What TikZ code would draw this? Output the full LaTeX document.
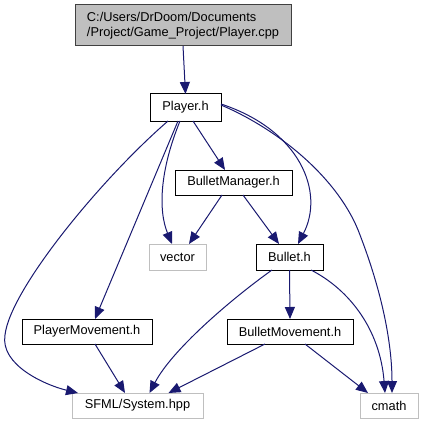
\documentclass[tikz,border=0pt]{standalone}
\usepackage{fontspec}
\setmainfont{Liberation Sans}
\usetikzlibrary{arrows.meta,calc}
\definecolor{edgeblue}{HTML}{191970}
\definecolor{boxgray}{HTML}{BFBFBF}
\begin{document}
\begin{tikzpicture}[x=1pt,y=-1pt,
  every node/.style={font=\fontsize{12.8}{14.5}\selectfont, inner sep=0pt, outer sep=0pt},
  filebox/.style={draw=black, line width=1pt, fill=white},
  sysbox/.style={draw=boxgray, line width=1pt, fill=white},
  topbox/.style={draw=black!75, line width=1pt, fill=boxgray},
  dep/.style={draw=edgeblue, line width=1pt, -{Triangle[length=12pt,width=10pt]}}]
\useasboundingbox (0,0) rectangle (424,425);
\node[topbox, minimum width=216pt, minimum height=41pt, align=left] (top) at (183,25.5) {C:/Users/DrDoom/Documents\\/Project/Game\_Project/Player.cpp};
\node[filebox, minimum width=71pt, minimum height=27pt] (pl) at (185.5,107.5) {Player.h};
\node[filebox, minimum width=117pt, minimum height=25pt] (bm) at (233.5,182.5) {BulletManager.h};
\node[sysbox, minimum width=57pt, minimum height=26pt] (vec) at (177.5,257) {vector};
\node[filebox, minimum width=67pt, minimum height=26pt] (bul) at (289.5,257) {Bullet.h};
\node[filebox, minimum width=130pt, minimum height=25pt] (pm) at (87,331.5) {PlayerMovement.h};
\node[filebox, minimum width=126pt, minimum height=25pt] (bmv) at (290,331.5) {BulletMovement.h};
\node[sysbox, minimum width=131pt, minimum height=25pt] (sfml) at (137.5,405.5) {SFML/System.hpp};
\node[sysbox, minimum width=58pt, minimum height=25pt] (cm) at (389,405.5) {cmath};

\path[dep] (top.south) -- (pl.north);
\path[dep] ([xshift=7.5pt]pl.south) -- ([xshift=-8.5pt]bm.north);
\path[dep] ([xshift=-5.5pt]pl.south) .. controls (160,170) and (158,210) .. ([xshift=-5.5pt]vec.north);
\path[dep] ([xshift=-7.5pt]pl.south) -- ([xshift=8pt]pm.north);
\path[dep] ([xshift=-17.5pt]pl.south) .. controls (100,180) and (10,290) .. (5,335) .. controls (0,365) and (45,385) .. ([xshift=-59.5pt]sfml.north);
\path[dep] ([yshift=3.5pt]pl.east) .. controls (300,130) and (325,192) .. ([xshift=8.5pt]bul.north);
\path[dep] ([yshift=2.5pt]pl.east) .. controls (280,130) and (340,180) .. (360,235) .. controls (385,300) and (392,350) .. ([xshift=3pt]cm.north);
\path[dep] ([xshift=-11.5pt]bm.south) -- ([xshift=11.5pt]vec.north);
\path[dep] ([xshift=9.5pt]bm.south) -- ([xshift=-10.5pt]bul.north);
\path[dep] (bul.south) -- (bmv.north);
\path[dep] ([xshift=-17.5pt]bul.south) .. controls (230,300) and (172,350) .. ([xshift=12pt]sfml.north);
\path[dep] ([xshift=21.5pt]bul.south) .. controls (350,290) and (380,330) .. ([xshift=-4pt]cm.north);
\path[dep] ([xshift=8pt]pm.south) -- ([xshift=-12.5pt]sfml.north);
\path[dep] ([xshift=-25pt]bmv.south) -- ([xshift=31pt]sfml.north);
\path[dep] ([xshift=15pt]bmv.south) -- ([xshift=-21pt]cm.north);
\end{tikzpicture}
\end{document}
